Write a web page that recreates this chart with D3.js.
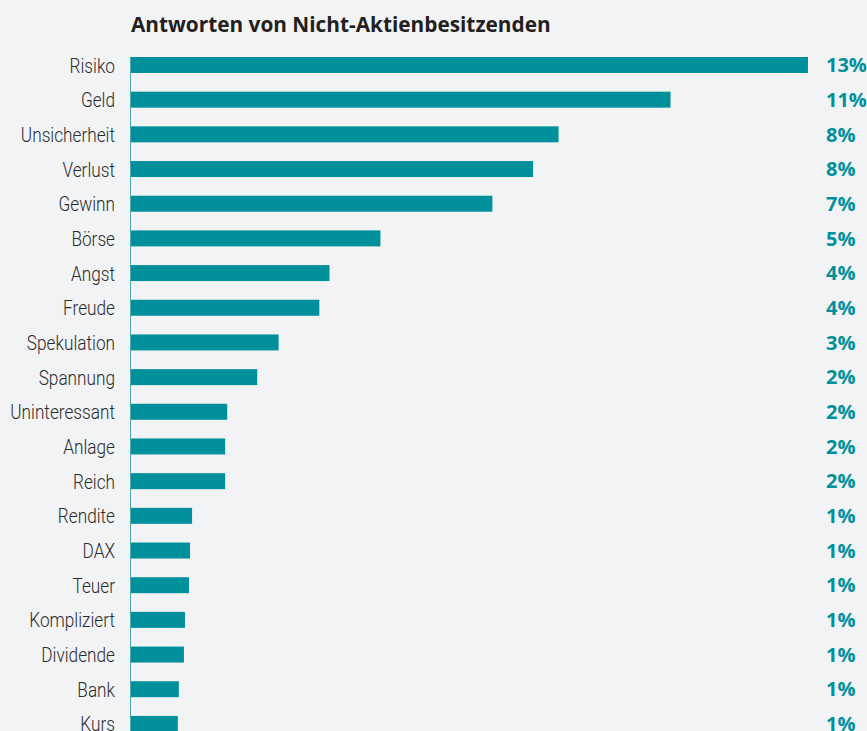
<!DOCTYPE html>
<html>
<head>
<meta charset="utf-8">
<script src="https://d3js.org/d3.v7.min.js"></script>
<style>
  body { margin: 0; background: #f2f3f5; }
  svg { display: block; }
</style>
</head>
<body>
<svg id="chart" width="867" height="731"></svg>
<script>
// data
var categories = ["Risiko", "Geld", "Unsicherheit", "Verlust", "Gewinn", "Börse", "Angst", "Freude",
  "Spekulation", "Spannung", "Uninteressant", "Anlage", "Reich", "Rendite", "DAX", "Teuer",
  "Kompliziert", "Dividende", "Bank", "Kurs"];
var values = [13.3, 10.6, 8.4, 7.9, 7.1, 4.9, 3.9, 3.7, 2.9, 2.48, 1.89, 1.85, 1.85, 1.2, 1.16, 1.14,
  1.06, 1.04, 0.94, 0.92];
var valueLabels = ["13%", "11%", "8%", "8%", "7%", "5%", "4%", "4%", "3%", "2%", "2%", "2%", "2%",
  "1%", "1%", "1%", "1%", "1%", "1%", "1%"];
var title = "Antworten von Nicht-Aktienbesitzenden";

var teal = "#00909b";
var marginLeft = 131, marginTop = 57, step = 34.68;

var svg = d3.select("#chart");

var x = d3.scaleLinear().domain([0, 14]).range([marginLeft, marginLeft + 14 * 50.9]);
var y = d3.scaleBand().domain(categories)
  .range([marginTop, marginTop + step * (categories.length - 0.539)])
  .paddingInner(0.539).paddingOuter(0);

// title
svg.append("text")
  .attr("x", marginLeft)
  .attr("y", 32)
  .style("font-family", "'Open Sans', sans-serif")
  .style("font-weight", "bold")
  .style("font-size", "20.8px")
  .style("fill", "#231f20")
  .text(title);

// bars
svg.append("g")
  .selectAll("rect")
  .data(categories)
  .enter()
  .append("rect")
    .attr("x", x(0))
    .attr("y", function(d) { return y(d); })
    .attr("width", function(d, i) { return x(values[i]) - x(0); })
    .attr("height", y.bandwidth())
    .style("fill", teal);

// axis line
svg.append("line")
  .attr("x1", marginLeft - 0.5).attr("x2", marginLeft - 0.5)
  .attr("y1", marginTop).attr("y2", 731)
  .attr("stroke", "#4aaab1")
  .attr("stroke-width", 1);

// category labels (condensed look: squeeze horizontally)
svg.append("g")
  .selectAll("text")
  .data(categories)
  .enter()
  .append("text")
    .attr("transform", function(d) {
      return "translate(115," + (y(d) + y.bandwidth() / 2) + ") scale(0.82,1)";
    })
    .attr("dy", "0.36em")
    .style("text-anchor", "end")
    .style("font-family", "Roboto, sans-serif")
    .style("font-weight", 300)
    .style("font-size", "21px")
    .style("fill", "#2b2b2b")
    .text(function(d) { return d; });

// value labels
svg.append("g")
  .selectAll("text")
  .data(categories)
  .enter()
  .append("text")
    .attr("x", 826)
    .attr("y", function(d) { return y(d) + y.bandwidth() / 2; })
    .attr("dy", "0.36em")
    .style("font-family", "'Open Sans', sans-serif")
    .style("font-weight", "bold")
    .style("font-size", "20px")
    .style("fill", teal)
    .text(function(d, i) { return valueLabels[i]; });
</script>
</body>
</html>
